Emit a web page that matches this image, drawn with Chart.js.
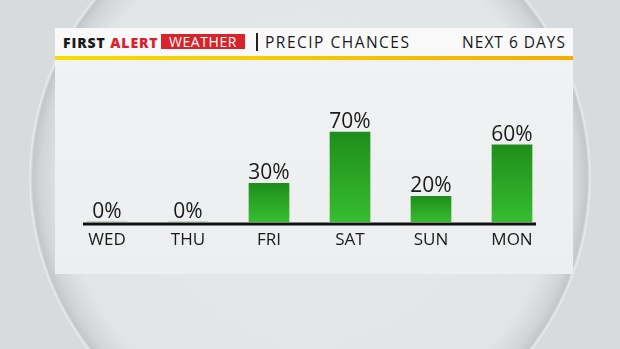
<!DOCTYPE html>
<html>
<head>
<meta charset="utf-8">
<script src="https://cdn.jsdelivr.net/npm/chart.js@4"></script>
<style>
  html, body { margin: 0; padding: 0; }
  body {
    width: 620px; height: 349px; overflow: hidden; position: relative;
    font-family: "Open Sans", sans-serif;
    background: radial-gradient(circle 280px at 310px 178px,
      #e6e9ea 0%, #e2e5e6 88%, #d2d5d7 96%, #c4c7c9 99%, #e8ebec 100%, #d8dbdd 100.5%);
  }
  #panel {
    position: absolute; left: 55px; top: 28px; width: 518px; height: 246px;
    background: linear-gradient(to bottom, #f1f2f3, #eceeef);
  }
  #head {
    position: absolute; left: 0; top: 0; width: 518px; height: 28px;
    background: #f9f9f9;
  }
  #stripe {
    position: absolute; left: 0; top: 28px; width: 518px; height: 4px;
    background: linear-gradient(to right, #f8dc00, #f6c300 60%, #f5ad00);
  }
  .t { position: absolute; white-space: nowrap; color: #1a1a1a; }
  #brand { left: 8px; top: 5px; font-size: 14px; font-weight: 800; letter-spacing: 0.9px; }
  #brand .red { color: #d9202a; }
  #wx {
    left: 106px; top: 6px; width: 84px; height: 15px; background: #d8232a;
    color: #fff; font-size: 14px; line-height: 15px; text-align: center; letter-spacing: 0.6px;
  }
  #sep { position: absolute; left: 201px; top: 5px; width: 2px; height: 18px; background: #222; }
  #title { left: 210px; top: 3px; font-size: 15.5px; font-weight: 500; letter-spacing: 1.5px; }
  #days { right: 7px; top: 3px; font-size: 15.5px; font-weight: 500; letter-spacing: 1px; }
  #wrap { position: absolute; left: 0; top: 32px; width: 518px; height: 214px; }
</style>
</head>
<body>
<div id="panel">
  <div id="head">
    <span class="t" id="brand">FIRST <span class="red">ALERT</span></span>
    <span class="t" id="wx">WEATHER</span>
    <div id="sep"></div>
    <span class="t" id="title">PRECIP CHANCES</span>
    <span class="t" id="days">NEXT 6 DAYS</span>
  </div>
  <div id="stripe"></div>
  <div id="wrap"><canvas id="precipChart"></canvas></div>
</div>
<script>
const days = ['WED', 'THU', 'FRI', 'SAT', 'SUN', 'MON'];
const precipChance = [0, 0, 30, 70, 20, 60];

const BAR_W = 40;

// green bars, darker at the top
function barFill(ctx) {
  const chart = ctx.chart;
  const y = chart.scales.y;
  const flat = '#2aa526';
  if (!y || !ctx.parsed) return flat;
  const top = y.getPixelForValue(ctx.parsed.y);
  const bot = y.getPixelForValue(0);
  if (!isFinite(top) || !isFinite(bot) || bot - top < 1) return flat;
  const g = chart.ctx.createLinearGradient(0, top, 0, bot);
  g.addColorStop(0, '#1f8e1b');
  g.addColorStop(1, '#37bd2f');
  return g;
}

const baseLine = {
  id: 'baseLine',
  afterDatasetsDraw(chart) {
    const meta = chart.getDatasetMeta(0);
    const y0 = chart.scales.y.getPixelForValue(0);
    const first = meta.data[0], last = meta.data[meta.data.length - 1];
    const c = chart.ctx;
    c.save();
    c.strokeStyle = '#111';
    c.lineWidth = 3;
    c.beginPath();
    c.moveTo(first.x - BAR_W / 2 - 4, y0 + 2);
    c.lineTo(last.x + BAR_W / 2 + 4, y0 + 2);
    c.stroke();
    c.restore();
  }
};

const valueLabels = {
  id: 'valueLabels',
  afterDatasetsDraw(chart) {
    const meta = chart.getDatasetMeta(0);
    const c = chart.ctx;
    c.save();
    c.font = '500 21px "Open Sans"';
    c.fillStyle = '#1a1a1a';
    c.textAlign = 'center';
    c.textBaseline = 'alphabetic';
    meta.data.forEach((bar, i) => {
      c.fillText(precipChance[i] + '%', bar.x, bar.y - 4);
    });
    c.restore();
  }
};

new Chart(document.getElementById('precipChart'), {
  type: 'bar',
  data: {
    labels: days,
    datasets: [{
      data: precipChance,
      backgroundColor: barFill,
      borderWidth: 0,
      barThickness: BAR_W
    }]
  },
  options: {
    responsive: true,
    maintainAspectRatio: false,
    animation: false,
    events: [],
    layout: { padding: { left: 11.5, right: 20.5, top: 33.5, bottom: 0 } },
    plugins: { legend: { display: false }, tooltip: { enabled: false } },
    scales: {
      x: {
        grid: { display: false, drawTicks: false },
        border: { display: false },
        ticks: { color: '#1a1a1a', font: { family: 'Open Sans', size: 17, weight: 500 }, padding: 8 },
        afterFit: s => { s.height = 52; }
      },
      y: {
        display: false,
        min: 0,
        max: 100
      }
    }
  },
  plugins: [baseLine, valueLabels]
});
</script>
</body>
</html>
